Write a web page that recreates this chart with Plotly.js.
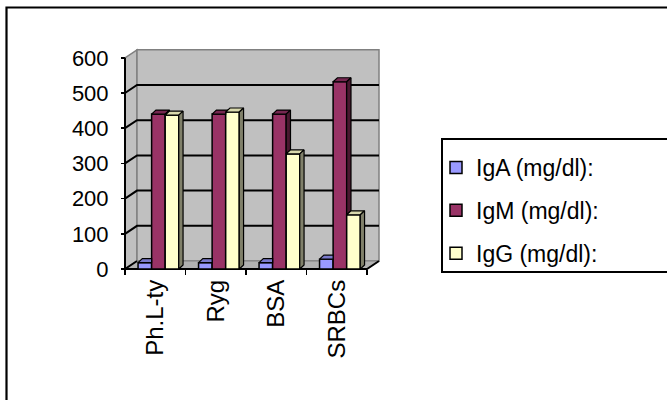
<!DOCTYPE html>
<html>
<head>
<meta charset="utf-8">
<script src="https://cdn.plot.ly/plotly-3.0.1.min.js"></script>
<style>html,body{margin:0;padding:0;background:#fff;}#chart{width:667px;height:400px;}</style>
</head>
<body>
<div id="chart"></div>
<script>
// ---- data ----
const categories = ["Ph.L-ty", "Ryg", "BSA", "SRBCs"];
const seriesNames = ["IgA (mg/dl):", "IgM (mg/dl):", "IgG (mg/dl):"];
const igA = [18, 18, 18, 28];
const igM = [440, 440, 440, 532];
const igG = [437, 446, 327, 154];
const yTicks = [0, 100, 200, 300, 400, 500, 600];

// ---- styling / geometry ----
const W = 667, H = 400;
const frontColors = ["#9999FF", "#993366", "#FFFFCC"];
const topColors   = ["#7A7ACC", "#762750", "#D9D9AD"];
const sideColors  = ["#4D4D80", "#4A1830", "#80806A"];
const PXX = 60.5, PXY = 0.352;          // px per category unit / per value unit
const x0px = 125, y0px = 269;            // front-left-bottom corner in px
const plotL = 116, plotR = 390, plotT = 40, plotB = 280;
const xr = [-0.5 - (x0px - plotL) / PXX, -0.5 + (plotR - x0px) / PXX];
const yr = [-(plotB - y0px) / PXY, (y0px - plotT) / PXY];
const dxB = 12 / PXX, dyB = 8 / PXY;     // depth of the 3-D box
const BW = 13.57 / PXX, OFF0 = -17.2 / PXX; // bar width / first bar offset
const bdx = 4.3 / PXX, bdy = 4 / PXY;   // bar depth
const yMax = yTicks[yTicks.length - 1];
const nCat = categories.length;
const xIdx = categories.map((c, i) => i);
const series = [igA, igM, igG];

const traces = [];
// front faces: real bar traces
series.forEach((vals, s) => {
  traces.push({
    type: "bar", x: xIdx, y: vals, name: seriesNames[s],
    width: BW, offset: OFF0 + s * BW,
    marker: {color: frontColors[s], line: {color: "#000", width: 1.5}},
    legendgroup: "g" + s, hoverinfo: "x+y"
  });
});
// top and side faces, computed from the same data
series.forEach((vals, s) => {
  const tx = [], ty = [], sx = [], sy = [];
  vals.forEach((h, i) => {
    const L = i + OFF0 + s * BW, R = L + BW;
    const last = (s === series.length - 1);
    const hn = last ? null : series[s + 1][i];
    let pts;
    if (last || hn <= h) {
      pts = [[L, h], [R, h], [R + bdx, h + bdy], [L + bdx, h + bdy]];
    } else {
      const t = (hn - h) / bdy;
      if (t >= 1) pts = [[L, h], [R, h], [R, h + bdy], [L + bdx, h + bdy]];
      else pts = [[L, h], [R, h], [R, hn], [R + bdx * t, hn], [R + bdx, h + bdy], [L + bdx, h + bdy]];
    }
    pts.concat([pts[0]]).forEach(p => { tx.push(p[0]); ty.push(p[1]); });
    tx.push(null); ty.push(null);
    let sp = null;
    if (last) sp = [[R, 0], [R, h], [R + bdx, h + bdy], [R + bdx, bdy]];
    else if (hn < h) sp = [[R, hn], [R, h], [R + bdx, h + bdy], [R + bdx, hn + bdy]];
    if (sp) {
      sp.concat([sp[0]]).forEach(p => { sx.push(p[0]); sy.push(p[1]); });
      sx.push(null); sy.push(null);
    }
  });
  traces.push({type: "scatter", mode: "lines", x: tx, y: ty, fill: "toself",
    fillcolor: topColors[s], line: {color: "#000", width: 1.2},
    showlegend: false, hoverinfo: "skip"});
  if (sx.length) traces.push({type: "scatter", mode: "lines", x: sx, y: sy, fill: "toself",
    fillcolor: sideColors[s], line: {color: "#000", width: 1.2},
    showlegend: false, hoverinfo: "skip"});
});

// ---- decorative 3-D box (walls, floor, grid) ----
const xa = -0.5, xb = nCat - 0.5;
const shapes = [];
const P = (pts) => "M" + pts.map(p => p[0] + "," + p[1]).join("L") + "Z";
// side wall
shapes.push({type: "path", xref: "x", yref: "y", layer: "below",
  path: P([[xa, 0], [xa + dxB, dyB], [xa + dxB, yMax + dyB], [xa, yMax]]),
  fillcolor: "#C0C0C0", line: {color: "#808080", width: 1.5}});
// back wall
shapes.push({type: "rect", xref: "x", yref: "y", layer: "below",
  x0: xa + dxB, x1: xb + dxB, y0: dyB, y1: yMax + dyB,
  fillcolor: "#C0C0C0", line: {color: "#808080", width: 1.5}});
// floor
shapes.push({type: "path", xref: "x", yref: "y", layer: "below",
  path: P([[xa, 0], [xb, 0], [xb + dxB, dyB], [xa + dxB, dyB]]),
  fillcolor: "#B2B2B2", line: {color: "#808080", width: 1}});
// gridlines (side wall + back wall)
yTicks.forEach(v => {
  if (v === yMax) return;
  const path = v === 0
    ? `M${xa},${v}L${xa + dxB},${v + dyB}`
    : `M${xa},${v}L${xa + dxB},${v + dyB}L${xb + dxB},${v + dyB}`;
  shapes.push({type: "path", xref: "x", yref: "y", layer: "below", path: path,
    line: {color: "#000", width: 2}});
});
// axis edges
shapes.push({type: "path", xref: "x", yref: "y", layer: "below",
  path: `M${xa},${yMax}L${xa},0L${xb},0L${xb + dxB},${dyB}`,
  line: {color: "#000", width: 2}});
// legend frame and outer frame (paper coords)
const px = v => v / W, py = v => 1 - v / H;
shapes.push({type: "rect", xref: "paper", yref: "paper", x0: px(442), x1: px(700), y0: py(139), y1: py(272),
  line: {color: "#000", width: 2}, fillcolor: "rgba(0,0,0,0)"});
shapes.push({type: "rect", xref: "paper", yref: "paper", x0: px(6.5), x1: px(720), y0: py(7.5), y1: py(430),
  line: {color: "#000", width: 2.2}, fillcolor: "rgba(0,0,0,0)"});

const font = "Arial, 'Liberation Sans', sans-serif";
const layout = {
  width: W, height: H,
  margin: {l: 0, r: 0, t: 0, b: 0},
  paper_bgcolor: "#fff", plot_bgcolor: "rgba(0,0,0,0)",
  barmode: "overlay",
  showlegend: true,
  font: {family: font, color: "#000"},
  xaxis: {
    type: "linear", domain: [px(plotL), px(plotR)], range: xr,
    anchor: "free", position: py(y0px),
    tickmode: "array", tickvals: xIdx, ticktext: categories,
    ticks: "", tickangle: -90, tickfont: {size: 24, family: font, color: "#000"},
    ticklabelstandoff: 5,
    showgrid: false, zeroline: false, showline: false, fixedrange: true,
    minor: {tickmode: "array", tickvals: [-0.5, 0.5, 1.5, 2.5, 3.5], ticks: "outside",
      ticklen: 5, tickwidth: 1.5, tickcolor: "#000", showgrid: false}
  },
  yaxis: {
    domain: [py(plotB), py(plotT)], range: yr,
    anchor: "free", position: px(x0px),
    tickmode: "array", tickvals: yTicks,
    ticks: "outside", ticklen: 4, tickwidth: 1.5, tickcolor: "#000",
    tickfont: {size: 22, family: font, color: "#000"},
    ticklabelstandoff: 8,
    showgrid: false, zeroline: false, showline: false, fixedrange: true
  },
  legend: {
    x: px(436), y: py(146), xanchor: "left", yanchor: "top",
    orientation: "v", traceorder: "grouped", tracegroupgap: 10,
    bgcolor: "rgba(0,0,0,0)", borderwidth: 0,
    font: {size: 23, family: font, color: "#000"}
  },
  shapes: shapes
};

Plotly.newPlot("chart", traces, layout, {staticPlot: true, displayModeBar: false});
</script>
</body>
</html>
